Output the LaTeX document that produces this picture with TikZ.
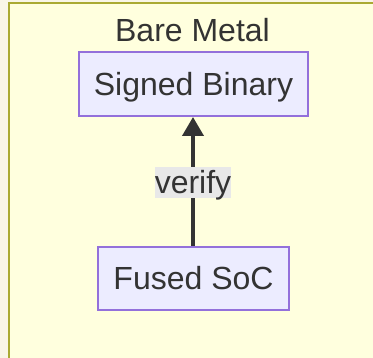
\documentclass[tikz,border=0pt]{standalone}
\usepackage{fontspec}
\setmainfont{Liberation Sans}
\usetikzlibrary{arrows.meta}
\definecolor{pagebg}{RGB}{249,246,231}
\definecolor{groupfill}{HTML}{FFFFDE}
\definecolor{groupline}{HTML}{AAAA33}
\definecolor{boxfill}{HTML}{ECECFF}
\definecolor{boxline}{HTML}{9370DB}
\definecolor{ink}{HTML}{333333}
\definecolor{labelbg}{HTML}{E8E8E8}
\tikzset{
  x=1pt, y=-1pt,
  every node/.style={font=\fontsize{32}{38}\selectfont, text=ink, inner sep=0pt},
  procbox/.style={draw=boxline, fill=boxfill, line width=2pt,
    text height=23pt, text depth=0pt},
  edgelabel/.style={fill=labelbg, minimum width=76pt, minimum height=31pt,
    text height=23pt, text depth=0pt},
  flow/.style={draw=ink, line width=3.8pt,
    -{Triangle[length=19pt,width=21pt]}},
}
\begin{document}
\begin{tikzpicture}
\useasboundingbox (0,0) rectangle (373,358);
\fill[pagebg] (0,0) rectangle (373,358);
% cluster frame
\draw[groupline, fill=groupfill, line width=2pt] (9,3) rectangle (390,380);
\node[anchor=base] (title) at (192.5,41.7) {Bare Metal};
% process nodes
\node[procbox, minimum width=229pt, minimum height=64pt] (signed) at (193.5,84) {Signed Binary};
\node[procbox, minimum width=191pt, minimum height=63pt] (fused) at (193.5,278.5) {Fused SoC};
% edge with label
\draw[flow] (fused.north -| 193,0) -- (signed.south -| 193,0);
\node[edgelabel] (verify) at (193,182.5) {verify};
\end{tikzpicture}
\end{document}
